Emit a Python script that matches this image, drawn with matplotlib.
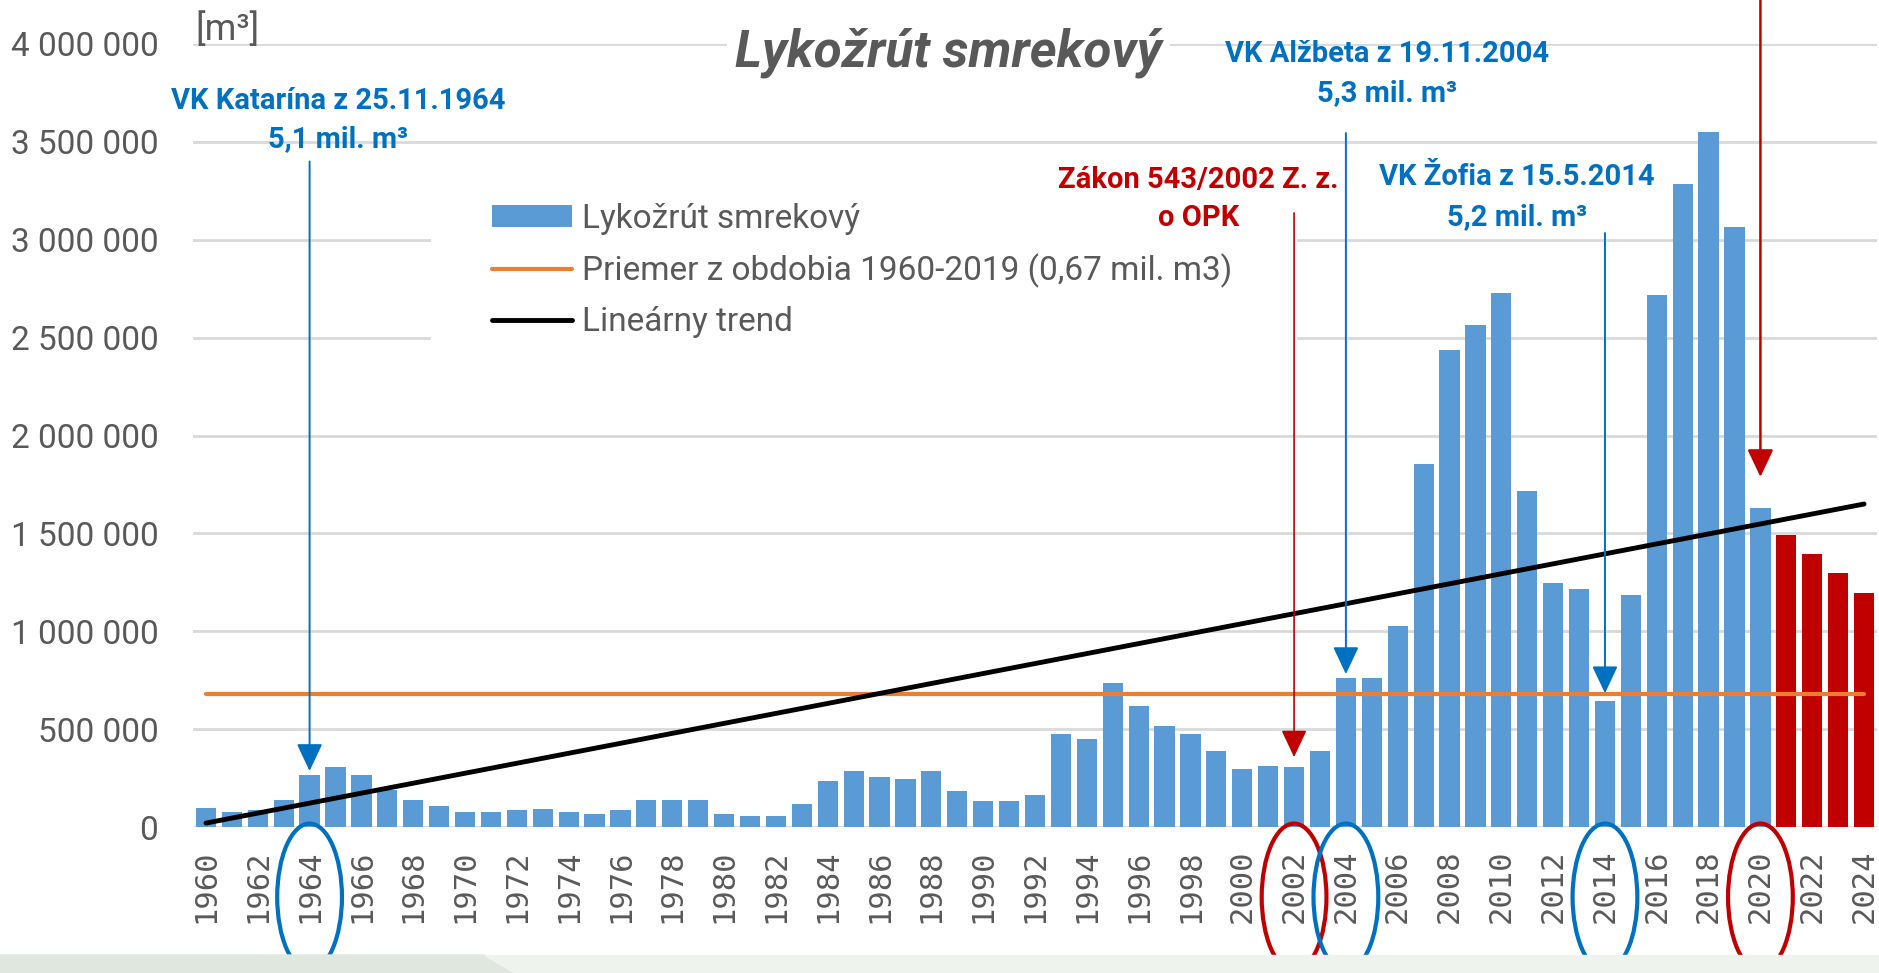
import matplotlib.pyplot as plt
import matplotlib.ticker as mticker
from matplotlib.patches import Ellipse, Rectangle, Polygon

plt.rcParams['font.family'] = ['Roboto', 'DejaVu Sans']

# bark beetle volume [m3], 1960-2020
years = list(range(1960, 2021))
volume = [96000, 75000, 87000, 137000, 267000, 306000, 267000, 190000, 137000, 106000,
          75000, 75000, 86000, 94000, 75000, 65000, 86000, 137000, 137000, 137000,
          65000, 55000, 55000, 116000, 235000, 285000, 256000, 246000, 285000, 184000,
          133000, 133000, 164000, 476000, 447000, 737000, 616000, 517000, 476000, 386000,
          295000, 314000, 305000, 386000, 762000, 762000, 1027000, 1855000, 2436000, 2567000,
          2728000, 1714000, 1244000, 1214000, 643000, 1185000, 2716000, 3287000, 3549000, 3067000,
          1632000]
# red bars 2021-2024
forecast_years = [2021, 2022, 2023, 2024]
forecast = [1494000, 1395000, 1296000, 1197000]

avg_1960_2019 = 680000
trend_years = [1960, 2024]
trend_values = [20000, 1650000]

circled_years = [1964, 2002, 2004, 2014, 2020]
circled_colors = ['#0070c0', '#c00000', '#0070c0', '#0070c0', '#c00000']

gray = '#595959'
blue = '#0070c0'
red = '#c00000'


def space_thousands(x, pos=None):
    return f"{int(x):,}".replace(",", " ")


fig = plt.figure(figsize=(18.79, 9.73), dpi=100)

# light band at the bottom of the slide
fig.patches.append(Polygon([[0, 0], [515 / 1879, 0], [484 / 1879, 18 / 973], [0, 18 / 973]],
                           closed=True, transform=fig.transFigure, color='#dfe7df', zorder=0))
fig.patches.append(Polygon([[515 / 1879, 0], [1, 0], [1, 18 / 973], [484 / 1879, 18 / 973]],
                           closed=True, transform=fig.transFigure, color='#eef3ee', zorder=0))

ax = fig.add_axes([193 / 1879, 146 / 973, (1877 - 193) / 1879, (827 - 44) / 973])
ax.patch.set_alpha(0)

bars = ax.bar(years, volume, width=0.78, color='#5b9bd5', zorder=2, label='Lykožrút smrekový')
ax.bar(forecast_years, forecast, width=0.78, color=red, zorder=2)

all_years = years + forecast_years
avg_line, = ax.plot([all_years[0], all_years[-1]], [avg_1960_2019, avg_1960_2019],
                    color='#ed7d31', lw=3, zorder=3, solid_capstyle='round',
                    label='Priemer z obdobia 1960-2019 (0,67 mil. m3)')
trend_line, = ax.plot(trend_years, trend_values, color='black', lw=3.5, zorder=3,
                      solid_capstyle='round', label='Lineárny trend')

ax.set_xlim(1959.5, 2024.5)
ax.set_ylim(0, 4000000)
ax.set_yticks(range(0, 4000001, 500000))
ax.yaxis.set_major_formatter(mticker.FuncFormatter(space_thousands))
ax.set_xticks(all_years[::2])
ax.set_xticklabels([str(y) for y in all_years[::2]], rotation=90,
                   family='DejaVu Sans Mono', fontsize=22, color=gray)
ax.tick_params(axis='x', length=0, pad=16)
ax.tick_params(axis='y', length=0, pad=25, labelsize=24, labelcolor=gray)
for s in ax.spines.values():
    s.set_visible(False)
ax.set_axisbelow(True)
ax.grid(axis='y', color='#d9d9d9', lw=2)
ax.grid(axis='x', visible=False)

# legend with white box over the gridlines
ax.add_patch(Rectangle((1968.7, 2180000), 2002.1 - 1968.7, 3460000 - 2180000,
                       facecolor='white', edgecolor='none', zorder=1.5))
ax.legend(handles=[bars, avg_line, trend_line], loc='upper left',
          bbox_to_anchor=(492 / 1879, 1 - 203 / 973), bbox_transform=fig.transFigure,
          frameon=False, fontsize=24, labelcolor=gray, borderpad=0, borderaxespad=0,
          handlelength=2.4, handleheight=0.65, handletextpad=0.3, labelspacing=0.55)

ax.text(1988.66, 3955000, 'Lykožrút smrekový', fontsize=37, fontweight='bold', style='italic',
        color=gray, ha='center', va='center', zorder=4,
        bbox=dict(facecolor='white', edgecolor='none', pad=6))
fig.text(195 / 1879, 1 - 30 / 973, '[m³]', fontsize=26, color=gray, ha='left', va='center')

# event labels
ax.text(1965.1, 3709000, 'VK Katarína z 25.11.1964', color=blue, fontsize=21,
        fontweight='bold', ha='center', va='center', zorder=4)
ax.text(1965.1, 3515000, '5,1 mil. m³', color=blue, fontsize=21,
        fontweight='bold', ha='center', va='center', zorder=4)
ax.text(2005.6, 3949000, 'VK Alžbeta z 19.11.2004', color=blue, fontsize=21,
        fontweight='bold', ha='center', va='center', zorder=4)
ax.text(2005.6, 3750000, '5,3 mil. m³', color=blue, fontsize=21,
        fontweight='bold', ha='center', va='center', zorder=4)
ax.text(2010.6, 3321000, 'VK Žofia z 15.5.2014', color=blue, fontsize=21,
        fontweight='bold', ha='center', va='center', zorder=4)
ax.text(2010.6, 3116000, '5,2 mil. m³', color=blue, fontsize=21,
        fontweight='bold', ha='center', va='center', zorder=4)
ax.text(1998.3, 3305000, 'Zákon 543/2002 Z. z.', color=red, fontsize=21,
        fontweight='bold', ha='center', va='center', zorder=4)
ax.text(1998.3, 3111000, 'o OPK', color=red, fontsize=21,
        fontweight='bold', ha='center', va='center', zorder=4)

arrow_style = '-|>,head_length=0.85,head_width=0.4'
arrows = [(1964, 3400000, 286000, blue, 1.4),
          (2004, 3545000, 781000, blue, 1.4),
          (2014, 3034000, 683000, blue, 1.4),
          (2002, 3137000, 357000, red, 1.2),
          (2020, 4240000, 1788000, red, 1.8)]
for x, y0, y1, c, lw in arrows:
    ax.annotate('', xy=(x, y1), xytext=(x, y0), annotation_clip=False, zorder=5,
                arrowprops=dict(arrowstyle=arrow_style, mutation_scale=20, color=c, lw=lw,
                                shrinkA=0, shrinkB=0))

# circles around years on the axis
for yr, c in zip(circled_years, circled_colors):
    ax.add_patch(Ellipse((yr, -358000), 2.5, 751000, fill=False, edgecolor=c, lw=3,
                         clip_on=False, zorder=5))

fig.savefig('out.png', dpi=100)
